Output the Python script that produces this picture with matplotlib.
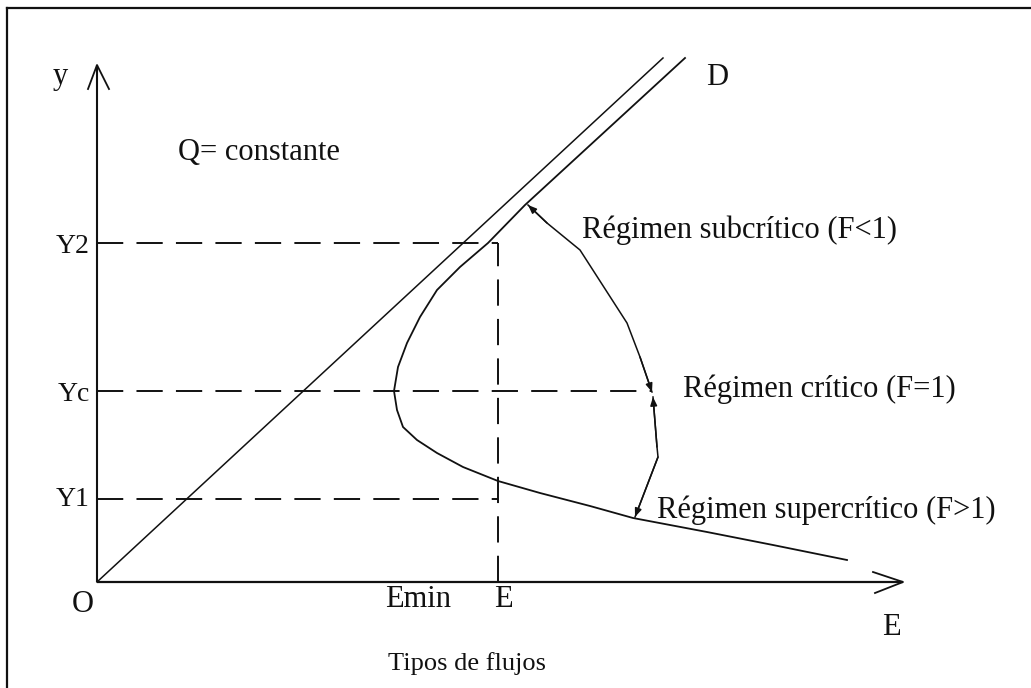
import matplotlib
matplotlib.use("Agg")
import matplotlib.pyplot as plt
from matplotlib.lines import Line2D

plt.rcParams['font.family'] = ['Liberation Serif', 'DejaVu Serif']

# Depth levels (same units as the energy axis, origin at O)
depth_levels = {"Y1": 83, "Yc": 191, "Y2": 339}
energy_E = 401          # energy of the two alternate depths
energy_min = 297        # minimum specific energy (at Yc)

# 45-degree reference line E = y
diag_E = [0, 566]
diag_y = [0, 524]

# Specific energy curve E(y), read point by point from top to bottom
curve_E = [588, 428, 391, 363, 340, 323, 310, 301, 297, 300, 306, 320,
           340, 366, 401, 443, 493, 536, 610, 676, 750]
curve_y = [524, 377, 339, 315, 292, 265, 239, 215, 191, 172, 155, 142,
           129, 115, 101, 89, 76, 64, 50, 37, 22]

# Annotation leaders for the flow regimes
sub_E = [431, 450, 483, 530, 543, 555]
sub_y = [377, 359, 332, 259, 225, 190]
sup_E = [556, 560, 561, 538]
sup_y = [185, 135, 125, 65]

axis_E_end = 806
axis_y_end = 517

fig = plt.figure(figsize=(10.31, 6.88), dpi=100)
ax = fig.add_axes([0, 0, 1, 1])
ax.set_xlim(-97, 1031 - 97)
ax.set_ylim(-(688 - 582), 582)
ax.axis('off')

ink = '#111111'

# frame (top and left edges)
fig.add_artist(Line2D([7 / 1031, 7 / 1031], [0, 1 - 8 / 688], transform=fig.transFigure,
                      color=ink, lw=1.6))
fig.add_artist(Line2D([7 / 1031, 1], [1 - 8 / 688, 1 - 8 / 688], transform=fig.transFigure,
                      color=ink, lw=1.6))

# axes with open arrowheads
ax.plot([0, 0], [0, axis_y_end], color=ink, lw=1.5, solid_capstyle='butt')
ax.plot([0, axis_E_end], [0, 0], color=ink, lw=1.6, solid_capstyle='butt')
ax.plot([-9, 0, 12], [axis_y_end - 24, axis_y_end, axis_y_end - 24], color=ink, lw=1.3)
ax.plot([axis_E_end - 30, axis_E_end, axis_E_end - 28], [10, 0, -11], color=ink, lw=1.3)

# dashed construction lines
dash = dict(color=ink, lw=1.4, linestyle=(0, (13.5, 6.8)))
ax.plot([0, energy_E], [depth_levels["Y2"]] * 2, **dash)
ax.plot([0, energy_E], [depth_levels["Y1"]] * 2, **dash)
ax.plot([0, sub_E[-1]], [depth_levels["Yc"]] * 2, **dash)
ax.plot([energy_E, energy_E], [0, depth_levels["Y2"]], **dash)

# E = y line and specific energy curve
ax.plot(diag_E, diag_y, color=ink, lw=1.1)
ax.plot(curve_E, curve_y, color=ink, lw=1.3)

# regime leaders with arrowheads at both ends
for xs, ys in ((sub_E, sub_y), (sup_E, sup_y)):
    ax.plot(xs, ys, color=ink, lw=1.1)
    for i0, i1 in ((1, 0), (-2, -1)):
        ax.annotate('', xy=(xs[i1], ys[i1]), xytext=(xs[i0], ys[i0]),
                    arrowprops=dict(arrowstyle='-|>,head_length=0.5,head_width=0.2',
                                    color=ink, lw=1.1, shrinkA=0, shrinkB=0))

fs = 22
txt = dict(color=ink, fontsize=fs, va='baseline', ha='left')
ax.text(-44, 498, 'y', **txt)
ax.text(609, 497, 'D', **txt)
ax.text(81, 422, 'Q= constante', **txt)
ylab = dict(txt, ha='right', fontsize=20)
ax.text(-7, 329, 'Y2', **ylab)
ax.text(-7, 181, 'Yc', **ylab)
ax.text(-7, 76, 'Y1', **ylab)
ax.text(-25, -30, 'O', **txt)
ax.text(energy_min - 9, -25, 'Emin', **txt)
ax.text(energy_E - 4, -25, 'E', **txt)
ax.text(785, -53, 'E', **txt)
ax.text(291, -88, 'Tipos de flujos', **dict(txt, fontsize=19))
ax.text(485, 344, 'Régimen subcrítico (F<1)', **txt)
ax.text(586, 185, 'Régimen crítico (F=1)', **txt)
ax.text(560, 64, 'Régimen supercrítico (F>1)', **txt)

fig.savefig('out.png', dpi=100, facecolor='white')
